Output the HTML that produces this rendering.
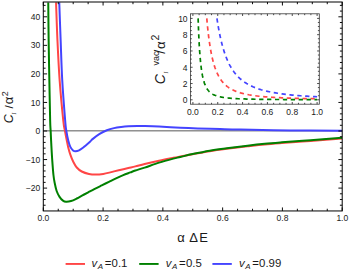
<!DOCTYPE html>
<html><head><meta charset="utf-8"><title>plot</title>
<style>html,body{margin:0;padding:0;background:#fff;}body{width:349px;height:279px;position:relative;overflow:hidden;font-family:"Liberation Sans",sans-serif;}</style></head>
<body>
<svg width="349" height="279" viewBox="0 0 349 279" style="position:absolute;left:0;top:0">
<rect width="349" height="279" fill="#fff"/>
<defs><clipPath id="cm"><rect x="43.30" y="2.00" width="298.90" height="208.95"/></clipPath>
<clipPath id="ci"><rect x="190.40" y="18.00" width="128.90" height="86.20"/></clipPath></defs>
<line x1="43.30" y1="130.85" x2="342.20" y2="130.85" stroke="#444" stroke-width="0.9"/>
<g clip-path="url(#cm)" fill="none" stroke-width="2.0" stroke-linejoin="round">
<path d="M56.05 2.40 C56.28 8.73 56.85 27.40 57.45 40.40 C58.05 53.40 58.68 67.07 59.65 80.40 C60.62 93.73 62.37 111.98 63.25 120.40 C64.13 128.82 64.37 127.57 64.95 130.90 C65.53 134.23 66.20 137.63 66.75 140.40 C67.30 143.17 67.65 145.12 68.25 147.50 C68.85 149.88 69.52 152.32 70.35 154.70 C71.18 157.08 72.18 159.67 73.25 161.80 C74.32 163.93 75.33 165.88 76.75 167.50 C78.17 169.12 79.72 170.42 81.75 171.50 C83.78 172.58 86.57 173.48 88.95 174.00 C91.33 174.52 93.67 174.62 96.05 174.60 C98.43 174.58 100.88 174.27 103.25 173.90 C105.62 173.53 108.45 172.82 110.25 172.40 C112.05 171.98 112.23 171.85 114.05 171.40 C115.87 170.95 118.77 170.27 121.15 169.70 C123.53 169.13 125.98 168.55 128.35 168.00 C130.72 167.45 132.63 167.07 135.35 166.40 C138.07 165.73 140.70 164.95 144.65 164.00 C148.60 163.05 154.27 161.73 159.05 160.70 C163.83 159.67 169.80 158.50 173.35 157.80 C176.90 157.10 177.15 157.08 180.35 156.50 C183.55 155.92 187.65 155.18 192.55 154.30 C197.45 153.42 204.03 152.12 209.75 151.20 C215.47 150.28 220.55 149.62 226.85 148.80 C233.15 147.98 241.23 147.03 247.55 146.30 C253.87 145.57 259.03 144.95 264.75 144.40 C270.47 143.85 275.55 143.48 281.85 143.00 C288.15 142.52 296.23 141.95 302.55 141.50 C308.87 141.05 313.17 140.78 319.75 140.30 C326.33 139.82 338.33 138.88 342.05 138.60" stroke="#ff4646"/>
<path d="M48.25 2.40 C48.32 8.73 48.47 27.40 48.65 40.40 C48.83 53.40 49.10 67.07 49.35 80.40 C49.60 93.73 49.93 111.98 50.15 120.40 C50.37 128.82 50.45 126.73 50.65 130.90 C50.85 135.07 51.08 140.48 51.35 145.40 C51.62 150.32 51.90 155.47 52.25 160.40 C52.60 165.33 53.05 171.28 53.45 175.00 C53.85 178.72 54.12 180.03 54.65 182.70 C55.18 185.37 55.83 188.63 56.65 191.00 C57.47 193.37 58.50 195.30 59.55 196.90 C60.60 198.50 61.87 199.79 62.95 200.60 C64.03 201.41 64.70 201.68 66.05 201.75 C67.40 201.82 69.27 201.54 71.05 201.00 C72.83 200.46 74.85 199.43 76.75 198.50 C78.65 197.57 80.53 196.43 82.45 195.40 C84.37 194.37 86.20 193.38 88.25 192.30 C90.30 191.22 92.50 190.05 94.75 188.90 C97.00 187.75 99.38 186.58 101.75 185.40 C104.12 184.22 106.57 182.98 108.95 181.80 C111.33 180.62 113.67 179.42 116.05 178.30 C118.43 177.18 120.87 176.08 123.25 175.10 C125.63 174.12 128.33 173.17 130.35 172.40 C132.37 171.63 132.97 171.30 135.35 170.50 C137.73 169.70 140.70 168.92 144.65 167.60 C148.60 166.28 154.27 164.10 159.05 162.60 C163.83 161.10 169.80 159.53 173.35 158.60 C176.90 157.67 177.15 157.75 180.35 157.00 C183.55 156.25 187.65 155.15 192.55 154.10 C197.45 153.05 204.03 151.67 209.75 150.70 C215.47 149.73 220.55 149.13 226.85 148.30 C233.15 147.47 241.23 146.45 247.55 145.70 C253.87 144.95 259.03 144.37 264.75 143.80 C270.47 143.23 275.55 142.82 281.85 142.30 C288.15 141.78 296.23 141.17 302.55 140.70 C308.87 140.23 313.17 140.00 319.75 139.50 C326.33 139.00 338.33 138.00 342.05 137.70" stroke="#008000"/>
<path d="M59.25 2.40 C59.48 8.73 60.15 27.40 60.65 40.40 C61.15 53.40 61.50 67.07 62.25 80.40 C63.00 93.73 64.47 111.98 65.15 120.40 C65.83 128.82 65.83 127.57 66.35 130.90 C66.87 134.23 67.58 137.73 68.25 140.40 C68.92 143.07 69.55 145.23 70.35 146.90 C71.15 148.57 72.18 149.68 73.05 150.40 C73.92 151.12 74.55 151.22 75.55 151.20 C76.55 151.18 77.77 150.92 79.05 150.30 C80.33 149.68 82.20 148.27 83.25 147.50 C84.30 146.73 84.18 146.70 85.35 145.70 C86.52 144.70 89.05 142.60 90.25 141.50 C91.45 140.40 90.98 140.37 92.55 139.10 C94.12 137.83 97.27 135.37 99.65 133.90 C102.03 132.43 104.45 131.27 106.85 130.30 C109.25 129.33 111.67 128.67 114.05 128.10 C116.43 127.53 118.77 127.22 121.15 126.90 C123.53 126.58 125.65 126.35 128.35 126.20 C131.05 126.05 134.63 126.02 137.35 126.00 C140.07 125.98 141.03 126.00 144.65 126.10 C148.27 126.20 153.10 126.33 159.05 126.60 C165.00 126.87 173.92 127.40 180.35 127.70 C186.78 128.00 190.98 128.17 197.65 128.40 C204.32 128.63 213.23 128.90 220.35 129.10 C227.47 129.30 228.68 129.38 240.35 129.60 C252.02 129.82 273.40 130.20 290.35 130.40 C307.30 130.60 333.43 130.73 342.05 130.80" stroke="#4444ff"/>
</g>
<g stroke="#000" fill="none">
<rect x="43.30" y="2.00" width="298.90" height="208.95" stroke-width="1"/>
<path d="M43.30 210.95v-3.50M43.30 2.00v3.50M58.24 210.95v-2.20M58.24 2.00v2.20M73.19 210.95v-2.20M73.19 2.00v2.20M88.13 210.95v-2.20M88.13 2.00v2.20M103.08 210.95v-3.50M103.08 2.00v3.50M118.02 210.95v-2.20M118.02 2.00v2.20M132.97 210.95v-2.20M132.97 2.00v2.20M147.92 210.95v-2.20M147.92 2.00v2.20M162.86 210.95v-3.50M162.86 2.00v3.50M177.81 210.95v-2.20M177.81 2.00v2.20M192.75 210.95v-2.20M192.75 2.00v2.20M207.69 210.95v-2.20M207.69 2.00v2.20M222.64 210.95v-3.50M222.64 2.00v3.50M237.58 210.95v-2.20M237.58 2.00v2.20M252.53 210.95v-2.20M252.53 2.00v2.20M267.47 210.95v-2.20M267.47 2.00v2.20M282.42 210.95v-3.50M282.42 2.00v3.50M297.37 210.95v-2.20M297.37 2.00v2.20M312.31 210.95v-2.20M312.31 2.00v2.20M327.25 210.95v-2.20M327.25 2.00v2.20M342.20 210.95v-3.50M342.20 2.00v3.50M43.30 205.23h2.30M342.20 205.23h-2.30M43.30 199.52h2.30M342.20 199.52h-2.30M43.30 193.81h2.30M342.20 193.81h-2.30M43.30 188.10h3.80M342.20 188.10h-3.80M43.30 182.39h2.30M342.20 182.39h-2.30M43.30 176.68h2.30M342.20 176.68h-2.30M43.30 170.97h2.30M342.20 170.97h-2.30M43.30 165.26h2.30M342.20 165.26h-2.30M43.30 159.55h3.80M342.20 159.55h-3.80M43.30 153.84h2.30M342.20 153.84h-2.30M43.30 148.13h2.30M342.20 148.13h-2.30M43.30 142.42h2.30M342.20 142.42h-2.30M43.30 136.71h2.30M342.20 136.71h-2.30M43.30 131.00h3.80M342.20 131.00h-3.80M43.30 125.29h2.30M342.20 125.29h-2.30M43.30 119.58h2.30M342.20 119.58h-2.30M43.30 113.87h2.30M342.20 113.87h-2.30M43.30 108.16h2.30M342.20 108.16h-2.30M43.30 102.45h3.80M342.20 102.45h-3.80M43.30 96.74h2.30M342.20 96.74h-2.30M43.30 91.03h2.30M342.20 91.03h-2.30M43.30 85.32h2.30M342.20 85.32h-2.30M43.30 79.61h2.30M342.20 79.61h-2.30M43.30 73.90h3.80M342.20 73.90h-3.80M43.30 68.19h2.30M342.20 68.19h-2.30M43.30 62.48h2.30M342.20 62.48h-2.30M43.30 56.77h2.30M342.20 56.77h-2.30M43.30 51.06h2.30M342.20 51.06h-2.30M43.30 45.35h3.80M342.20 45.35h-3.80M43.30 39.64h2.30M342.20 39.64h-2.30M43.30 33.93h2.30M342.20 33.93h-2.30M43.30 28.22h2.30M342.20 28.22h-2.30M43.30 22.51h2.30M342.20 22.51h-2.30M43.30 16.80h3.80M342.20 16.80h-3.80M43.30 11.09h2.30M342.20 11.09h-2.30M43.30 5.38h2.30M342.20 5.38h-2.30" stroke-width="0.95"/>
</g>
<g fill="#1a1a1a" font-family="'Liberation Sans', sans-serif" font-size="8.5">
<text x="37.49" y="221.30">0.0</text>
<text x="97.27" y="221.30">0.2</text>
<text x="157.05" y="221.30">0.4</text>
<text x="216.83" y="221.30">0.6</text>
<text x="276.61" y="221.30">0.8</text>
<text x="336.39" y="221.30">1.0</text>
<text x="40.30" y="191.20" text-anchor="end">−20</text>
<text x="40.30" y="162.65" text-anchor="end">−10</text>
<text x="40.30" y="134.10" text-anchor="end">0</text>
<text x="40.30" y="105.55" text-anchor="end">10</text>
<text x="40.30" y="77.00" text-anchor="end">20</text>
<text x="40.30" y="48.45" text-anchor="end">30</text>
<text x="40.30" y="19.90" text-anchor="end">40</text>
</g>
<rect x="150.00" y="11.80" width="172.30" height="106.40" fill="#fff" stroke="none"/>
<g fill="none" stroke-width="1.7" stroke-dasharray="4.3 3.6">
<path d="M206.79 18.40 L207.16 22.62 L207.53 26.52 L207.91 30.13 L208.28 33.48 L208.66 36.59 L209.03 39.49 L209.41 42.20 L209.78 44.73 L210.16 47.09 L210.53 49.31 L210.91 51.39 L211.28 53.34 L211.65 55.17 L212.03 56.91 L212.40 58.54 L212.78 60.08 L213.15 61.53 L213.53 62.91 L213.90 64.21 L214.28 65.45 L214.65 66.62 L215.02 67.74 L215.40 68.79 L215.77 69.80 L216.15 70.76 L216.52 71.67 L216.90 72.54 L217.27 73.38 L217.65 74.17 L218.02 74.93 L218.39 75.65 L218.77 76.35 L219.14 77.01 L219.52 77.65 L219.89 78.26 L220.27 78.84 L220.64 79.41 L221.02 79.95 L221.39 80.46 L221.77 80.96 L222.14 81.44 L222.51 81.90 L222.89 82.35 L223.26 82.78 L223.64 83.19 L224.01 83.58 L224.39 83.97 L224.76 84.34 L225.14 84.70 L225.51 85.04 L225.88 85.37 L226.26 85.70 L226.63 86.01 L227.01 86.31 L227.38 86.60 L227.76 86.88 L228.13 87.16 L228.51 87.42 L228.88 87.68 L229.25 87.92 L229.63 88.17 L230.00 88.40 L230.38 88.63 L230.75 88.85 L231.13 89.06 L231.50 89.27 L231.88 89.47 L232.25 89.66 L232.63 89.85 L233.00 90.04 L233.37 90.22 L233.75 90.39 L234.12 90.56 L234.50 90.73 L234.87 90.89 L235.25 91.05 L235.62 91.20 L236.00 91.35 L236.37 91.49 L238.44 92.23 L240.51 92.88 L242.58 93.44 L244.65 93.94 L246.72 94.38 L248.79 94.78 L250.86 95.13 L252.93 95.44 L255.00 95.73 L257.07 95.99 L259.14 96.22 L261.21 96.44 L263.28 96.63 L265.35 96.81 L267.42 96.97 L269.49 97.12 L271.56 97.26 L273.63 97.39 L275.70 97.51 L277.77 97.62 L279.84 97.72 L281.91 97.82 L283.98 97.91 L286.05 97.99 L288.12 98.07 L290.19 98.14 L292.26 98.21 L294.33 98.27 L296.40 98.33 L298.47 98.39 L300.54 98.45 L302.61 98.50 L304.68 98.54 L306.75 98.59 L308.82 98.63 L310.89 98.67 L312.96 98.71 L315.03 98.75 L317.10 98.78" stroke="#ff4646"/>
<path d="M198.11 18.40 L198.59 31.66 L199.08 41.92 L199.56 50.03 L200.05 56.54 L200.53 61.86 L201.02 66.25 L201.50 69.92 L201.98 73.02 L202.47 75.67 L202.95 77.94 L203.44 79.90 L203.92 81.61 L204.41 83.11 L204.89 84.43 L205.37 85.60 L205.86 86.64 L206.34 87.57 L206.83 88.41 L207.31 89.16 L207.80 89.84 L208.28 90.46 L208.77 91.02 L209.25 91.53 L209.73 92.00 L210.22 92.43 L210.70 92.83 L211.19 93.19 L211.67 93.53 L212.16 93.84 L212.64 94.13 L213.12 94.40 L213.61 94.65 L214.09 94.88 L214.58 95.10 L215.06 95.30 L215.55 95.49 L216.03 95.67 L216.51 95.84 L217.00 95.99 L217.48 96.14 L217.97 96.28 L218.45 96.41 L218.94 96.54 L219.42 96.66 L219.90 96.77 L220.39 96.88 L220.87 96.98 L221.36 97.07 L221.84 97.16 L222.33 97.25 L222.81 97.33 L223.29 97.41 L223.78 97.48 L224.26 97.55 L224.75 97.62 L225.23 97.69 L225.72 97.75 L226.20 97.81 L226.68 97.86 L227.17 97.92 L227.65 97.97 L228.14 98.02 L228.62 98.07 L229.11 98.11 L229.59 98.16 L230.07 98.20 L230.56 98.24 L231.04 98.28 L231.53 98.32 L232.01 98.36 L232.50 98.39 L232.98 98.42 L233.46 98.46 L233.95 98.49 L234.43 98.52 L234.92 98.55 L235.40 98.58 L235.89 98.60 L236.37 98.63 L238.44 98.73 L240.51 98.83 L242.58 98.90 L244.65 98.97 L246.72 99.04 L248.79 99.09 L250.86 99.14 L252.93 99.19 L255.00 99.23 L257.07 99.26 L259.14 99.30 L261.21 99.33 L263.28 99.35 L265.35 99.38 L267.42 99.40 L269.49 99.42 L271.56 99.44 L273.63 99.46 L275.70 99.48 L277.77 99.49 L279.84 99.51 L281.91 99.52 L283.98 99.53 L286.05 99.55 L288.12 99.56 L290.19 99.57 L292.26 99.58 L294.33 99.59 L296.40 99.59 L298.47 99.60 L300.54 99.61 L302.61 99.62 L304.68 99.62 L306.75 99.63 L308.82 99.64 L310.89 99.64 L312.96 99.65 L315.03 99.65 L317.10 99.66" stroke="#008000"/>
<path d="M216.95 18.40 L217.20 20.04 L217.44 21.63 L217.69 23.17 L217.93 24.67 L218.18 26.12 L218.43 27.53 L218.67 28.91 L218.92 30.24 L219.16 31.54 L219.41 32.80 L219.66 34.02 L219.90 35.21 L220.15 36.37 L220.39 37.50 L220.64 38.60 L220.88 39.67 L221.13 40.71 L221.38 41.73 L221.62 42.72 L221.87 43.68 L222.11 44.63 L222.36 45.54 L222.60 46.44 L222.85 47.31 L223.10 48.16 L223.34 48.99 L223.59 49.80 L223.83 50.59 L224.08 51.37 L224.33 52.12 L224.57 52.86 L224.82 53.58 L225.06 54.28 L225.31 54.97 L225.55 55.64 L225.80 56.30 L226.05 56.94 L226.29 57.57 L226.54 58.19 L226.78 58.79 L227.03 59.38 L227.28 59.95 L227.52 60.52 L227.77 61.07 L228.01 61.61 L228.26 62.14 L228.50 62.66 L228.75 63.16 L229.00 63.66 L229.24 64.15 L229.49 64.62 L229.73 65.09 L229.98 65.55 L230.22 66.00 L230.47 66.44 L230.72 66.87 L230.96 67.30 L231.21 67.71 L231.45 68.12 L231.70 68.52 L231.95 68.91 L232.19 69.30 L232.44 69.68 L232.68 70.05 L232.93 70.41 L233.17 70.77 L233.42 71.12 L233.67 71.47 L233.91 71.81 L234.16 72.14 L234.40 72.46 L234.65 72.79 L234.90 73.10 L235.14 73.41 L235.39 73.71 L235.63 74.01 L235.88 74.31 L236.12 74.60 L236.37 74.88 L238.44 77.10 L240.51 79.03 L242.58 80.72 L244.65 82.22 L246.72 83.54 L248.79 84.73 L250.86 85.78 L252.93 86.73 L255.00 87.59 L257.07 88.37 L259.14 89.07 L261.21 89.71 L263.28 90.29 L265.35 90.83 L267.42 91.32 L269.49 91.77 L271.56 92.19 L273.63 92.58 L275.70 92.93 L277.77 93.26 L279.84 93.57 L281.91 93.86 L283.98 94.12 L286.05 94.37 L288.12 94.61 L290.19 94.83 L292.26 95.03 L294.33 95.22 L296.40 95.40 L298.47 95.58 L300.54 95.74 L302.61 95.89 L304.68 96.03 L306.75 96.17 L308.82 96.30 L310.89 96.42 L312.96 96.53 L315.03 96.64 L317.10 96.75" stroke="#4444ff"/>
</g>
<g stroke="#3a3a3a" fill="none">
<rect x="190.40" y="13.80" width="128.90" height="90.40" stroke-width="0.8"/>
<path d="M192.90 104.20v-2.20M192.90 13.80v2.20M199.11 104.20v-1.40M199.11 13.80v1.40M205.32 104.20v-1.40M205.32 13.80v1.40M211.53 104.20v-1.40M211.53 13.80v1.40M217.74 104.20v-2.20M217.74 13.80v2.20M223.95 104.20v-1.40M223.95 13.80v1.40M230.16 104.20v-1.40M230.16 13.80v1.40M236.37 104.20v-1.40M236.37 13.80v1.40M242.58 104.20v-2.20M242.58 13.80v2.20M248.79 104.20v-1.40M248.79 13.80v1.40M255.00 104.20v-1.40M255.00 13.80v1.40M261.21 104.20v-1.40M261.21 13.80v1.40M267.42 104.20v-2.20M267.42 13.80v2.20M273.63 104.20v-1.40M273.63 13.80v1.40M279.84 104.20v-1.40M279.84 13.80v1.40M286.05 104.20v-1.40M286.05 13.80v1.40M292.26 104.20v-2.20M292.26 13.80v2.20M298.47 104.20v-1.40M298.47 13.80v1.40M304.68 104.20v-1.40M304.68 13.80v1.40M310.89 104.20v-1.40M310.89 13.80v1.40M317.10 104.20v-2.20M317.10 13.80v2.20M190.40 99.80h2.20M319.30 99.80h-2.20M190.40 95.73h1.40M319.30 95.73h-1.40M190.40 91.66h1.40M319.30 91.66h-1.40M190.40 87.59h1.40M319.30 87.59h-1.40M190.40 83.52h2.20M319.30 83.52h-2.20M190.40 79.45h1.40M319.30 79.45h-1.40M190.40 75.38h1.40M319.30 75.38h-1.40M190.40 71.31h1.40M319.30 71.31h-1.40M190.40 67.24h2.20M319.30 67.24h-2.20M190.40 63.17h1.40M319.30 63.17h-1.40M190.40 59.10h1.40M319.30 59.10h-1.40M190.40 55.03h1.40M319.30 55.03h-1.40M190.40 50.96h2.20M319.30 50.96h-2.20M190.40 46.89h1.40M319.30 46.89h-1.40M190.40 42.82h1.40M319.30 42.82h-1.40M190.40 38.75h1.40M319.30 38.75h-1.40M190.40 34.68h2.20M319.30 34.68h-2.20M190.40 30.61h1.40M319.30 30.61h-1.40M190.40 26.54h1.40M319.30 26.54h-1.40M190.40 22.47h1.40M319.30 22.47h-1.40M190.40 18.40h2.20M319.30 18.40h-2.20" stroke-width="0.8" stroke="#222"/>
</g>
<g fill="#1a1a1a" font-family="'Liberation Sans', sans-serif" font-size="8.5">
<text x="186.99" y="114.70">0.0</text>
<text x="211.83" y="114.70">0.2</text>
<text x="236.67" y="114.70">0.4</text>
<text x="261.51" y="114.70">0.6</text>
<text x="286.35" y="114.70">0.8</text>
<text x="311.19" y="114.70">1.0</text>
<text x="187.60" y="103.20" text-anchor="end">0</text>
<text x="187.60" y="86.92" text-anchor="end">2</text>
<text x="187.60" y="70.64" text-anchor="end">4</text>
<text x="187.60" y="54.36" text-anchor="end">6</text>
<text x="187.60" y="38.08" text-anchor="end">8</text>
<text x="187.60" y="21.80" text-anchor="end">10</text>
</g>
<g fill="#1a1a1a" font-family="'Liberation Sans', sans-serif">
<text y="242.30" font-size="13"><tspan x="177.34">α</tspan><tspan x="189.27">Δ</tspan><tspan x="199.28">E</tspan></text>
<g transform="translate(12.50,122.60) rotate(-90)">
<text x="-0.58" y="0" font-size="12.4" font-style="italic">C</text>
<text x="8.0" y="3.9" font-size="5.4" font-style="italic" font-family="'Liberation Serif', serif">I</text>
<text x="14.2" y="0" font-size="11.5">/</text>
<text x="18.46" y="0" font-size="13">α</text>
<text x="26.3" y="-4.4" font-size="9">2</text>
</g>
<g transform="translate(164.50,83.50) rotate(-90)">
<text x="-0.67" y="0" font-size="14" font-style="italic">C</text>
<text x="10.1" y="3.0" font-size="5.2" font-style="italic" font-family="'Liberation Serif', serif">I</text>
<text x="17.97" y="-5.90" font-size="9">vac</text>
<text x="29.8" y="0" font-size="14">/</text>
<text x="34.45" y="0" font-size="13.2">α</text>
<text x="43.0" y="-5.50" font-size="10.5">2</text>
</g>
</g>
<g fill="#1a1a1a" font-family="'Liberation Sans', sans-serif" font-size="11.4">
<line x1="65.60" y1="263.95" x2="85.00" y2="263.95" stroke="#ff4646" stroke-width="1.9"/>
<text x="91.4" y="267.10" font-style="italic">v</text>
<text x="97.8" y="268.90" font-size="8" font-style="italic">A</text>
<text x="104.8" y="267.10">=</text>
<text x="111.6" y="267.10">0.1</text>
<line x1="139.20" y1="263.95" x2="158.60" y2="263.95" stroke="#008000" stroke-width="1.9"/>
<text x="165.7" y="267.10" font-style="italic">v</text>
<text x="172.1" y="268.90" font-size="8" font-style="italic">A</text>
<text x="179.1" y="267.10">=</text>
<text x="185.9" y="267.10">0.5</text>
<line x1="212.40" y1="263.95" x2="231.80" y2="263.95" stroke="#4444ff" stroke-width="1.9"/>
<text x="238.9" y="267.10" font-style="italic">v</text>
<text x="245.3" y="268.90" font-size="8" font-style="italic">A</text>
<text x="252.3" y="267.10">=</text>
<text x="259.1" y="267.10">0.99</text>
</g>
</svg>
</body></html>
